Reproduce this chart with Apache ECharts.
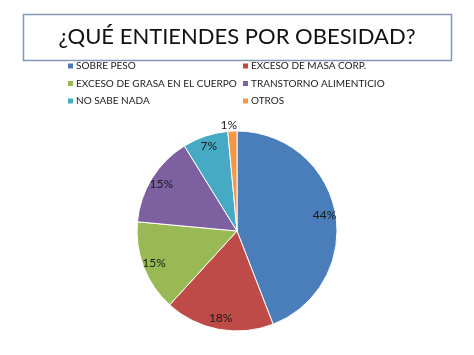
<!DOCTYPE html>
<html><head><meta charset="utf-8">
<script src="https://cdn.jsdelivr.net/npm/echarts@6/dist/echarts.min.js"></script>
<style>html,body{margin:0;padding:0;background:#fff}#c{width:474px;height:355px}</style>
</head><body><div id="c"></div>
<script>
const titleText = '¿QUÉ ENTIENDES POR OBESIDAD?';
const categories = ['SOBRE PESO', 'EXCESO DE MASA CORP.', 'EXCESO DE GRASA EN EL CUERPO', 'TRANSTORNO ALIMENTICIO', 'NO SABE NADA', 'OTROS'];
const counts = [30, 12, 10, 10, 5, 1];
const colors = ['#4A7EBB', '#BE4B48', '#98B954', '#7D60A0', '#46AAC5', '#F79646'];
const leftLegend = [categories[0], categories[2], categories[4]];
const rightLegend = [categories[1], categories[3], categories[5]];

const FONT = 'Lato, "Open Sans", sans-serif';
const chart = echarts.init(document.getElementById('c'), null, {renderer: 'canvas'});
const total = counts.reduce((a, b) => a + b, 0);

const mainData = categories.map((n, i) => ({name: n, value: counts[i], itemStyle: {color: colors[i]}}));
const labelData = categories.map((n, i) => {
  const d = {name: n, value: counts[i]};
  if (n === 'OTROS') {
    d.label = {position: 'outside', offset: [10, 0]};
    d.labelLine = {show: false, length: 6, length2: 0};
  }
  return d;
});

const legendCommon = {
  orient: 'vertical', itemWidth: 7, itemHeight: 7, itemGap: 7.5, icon: 'rect',
  textStyle: {fontFamily: FONT, fontSize: 10, color: '#1a1a1a', padding: [0, 0, 0, -3]},
  selectedMode: false
};

chart.setOption({
  backgroundColor: '#fff',
  animation: false,
  color: colors,
  title: {
    text: titleText, left: 'center', top: 21,
    textStyle: {fontFamily: FONT, fontSize: 22, fontWeight: 'normal', color: '#111'}
  },
  graphic: [{
    type: 'rect', shape: {x: 23.5, y: 14.5, width: 428, height: 46},
    style: {fill: null, stroke: '#8497b0', lineWidth: 1.5}, silent: true
  }],
  legend: [
    Object.assign({data: leftLegend, left: 61, top: 56}, legendCommon),
    Object.assign({data: rightLegend, left: 236, top: 56}, legendCommon)
  ],
  series: [{
    type: 'pie', center: [237, 231], radius: 100, startAngle: 90, clockwise: true,
    data: mainData, label: {show: false}, labelLine: {show: false},
    itemStyle: {borderColor: '#ffffff', borderWidth: 1},
    emphasis: {disabled: true}, silent: true
  }, {
    type: 'pie', center: [237, 231], radius: [72, 100], startAngle: 90, clockwise: true,
    data: labelData, silent: true, avoidLabelOverlap: false,
    itemStyle: {color: 'rgba(0,0,0,0)', borderWidth: 0},
    emphasis: {disabled: true},
    labelLine: {show: false},
    label: {
      show: true, position: 'inside', fontFamily: FONT, fontSize: 12, color: '#1a1a1a',
      formatter: p => Math.round(p.value / total * 100) + '%'
    }
  }]
});
</script></body></html>
